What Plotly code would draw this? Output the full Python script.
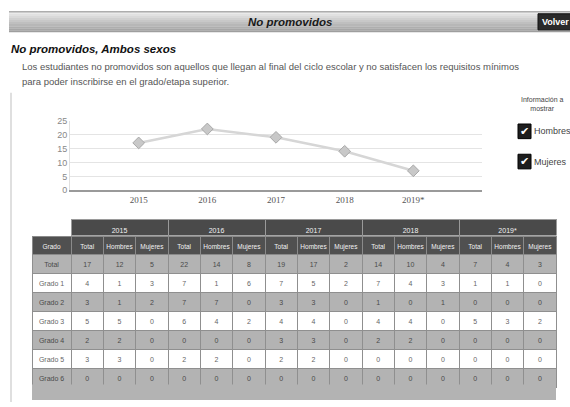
import plotly.graph_objects as go

W, H = 570, 407

# ---------------- data ----------------
years = [2015, 2016, 2017, 2018, 2019]
year_labels = ["2015", "2016", "2017", "2018", "2019*"]
chart_totals = [17, 22, 19, 14, 7]

grades = ["Total", "Grado 1", "Grado 2", "Grado 3", "Grado 4", "Grado 5", "Grado 6"]
sub_cols = ["Total", "Hombres", "Mujeres"]
# rows: grade, values per year as (Total, Hombres, Mujeres)
t2015 = [[17, 12, 5], [4, 1, 3], [3, 1, 2], [5, 5, 0], [2, 2, 0], [3, 3, 0], [0, 0, 0]]
t2016 = [[22, 14, 8], [7, 1, 6], [7, 7, 0], [6, 4, 2], [0, 0, 0], [2, 2, 0], [0, 0, 0]]
t2017 = [[19, 17, 2], [7, 5, 2], [3, 3, 0], [4, 4, 0], [3, 3, 0], [2, 2, 0], [0, 0, 0]]
t2018 = [[14, 10, 4], [7, 4, 3], [1, 0, 1], [4, 4, 0], [2, 2, 0], [0, 0, 0], [0, 0, 0]]
t2019 = [[7, 4, 3], [1, 1, 0], [0, 0, 0], [5, 3, 2], [0, 0, 0], [0, 0, 0], [0, 0, 0]]
year_tables = [t2015, t2016, t2017, t2018, t2019]

title_text = "No promovidos, Ambos sexos"
bar_text = "No promovidos"
desc1 = "Los estudiantes no promovidos son aquellos que llegan al final del ciclo escolar y no satisfacen los requisitos mínimos"
desc2 = "para poder inscribirse en el grado/etapa superior."
legend_items = ["Hombres", "Mujeres"]


def px(x):
    return x / W


def py(y):
    return 1 - y / H


FONT = "Liberation Sans, Arial, sans-serif"

fig = go.Figure()

# ---------------- line chart ----------------
fig.add_trace(go.Scatter(
    x=years, y=chart_totals, mode="lines+markers",
    line=dict(color="#d6d6d6", width=2.5),
    marker=dict(symbol="diamond", size=9, color="#c8c8c8",
                line=dict(color="#a8a8a8", width=1)),
    hoverinfo="skip", showlegend=False,
))

# ---------------- tables ----------------
header_cols = ["Grado"] + [c for _ in years for c in sub_cols]
grade_cells = [g.replace(" ", "\u00a0") for g in grades]
cols = [grade_cells]
for tbl in year_tables:
    for k in range(3):
        cols.append([row[k] for row in tbl])

row_fill = ["#b3b3b3" if i % 2 == 0 else "#ffffff" for i in range(len(grades))]
row_font = ["#4a4a4a" if i % 2 == 0 else "#666666" for i in range(len(grades))]

fig.add_trace(go.Table(
    domain=dict(x=[px(71), px(556)], y=[py(237), py(220)]),
    columnwidth=[1] * len(years),
    header=dict(values=year_labels, fill_color="#4a4a4a",
                line=dict(color="#9a9a9a", width=1),
                font=dict(color="#f2f2f2", size=7, family=FONT),
                height=17, align="center"),
    cells=dict(values=[[] for _ in years], height=1),
))

fig.add_trace(go.Table(
    domain=dict(x=[px(32), px(556)], y=[py(407), py(237)]),
    columnwidth=[39] + [32.3] * 15,
    header=dict(values=header_cols, fill_color="#505050",
                line=dict(color="#8a8a8a", width=1),
                font=dict(color="#f2f2f2", size=6.5, family=FONT),
                height=18, align="center"),
    cells=dict(values=cols,
               fill_color=[row_fill] * len(cols),
               line=dict(color="#8f8f8f", width=1),
               font=dict(color=[row_font] * len(cols), size=7, family=FONT),
               height=19, align="center"),
))

shapes = []
# header bar gradient
n = 10
for i in range(n):
    c = int(234 - (234 - 158) * i / (n - 1))
    shapes.append(dict(type="rect", xref="paper", yref="paper",
                       x0=px(9), x1=px(570), y0=py(7 + 21 * (i + 1) / n), y1=py(7 + 21 * i / n),
                       fillcolor=f"rgb({c},{c},{c})", line=dict(width=0), layer="below"))
shapes.append(dict(type="line", xref="paper", yref="paper", x0=px(9), x1=px(570),
                   y0=py(7), y1=py(7), line=dict(color="#8a8a8a", width=1)))
# Volver button
shapes.append(dict(type="rect", xref="paper", yref="paper", x0=px(538), x1=px(575),
                   y0=py(25.5), y1=py(9), fillcolor="#2a2a2a", line=dict(color="#111", width=1)))
# left border line
shapes.append(dict(type="line", xref="paper", yref="paper", x0=px(11), x1=px(11),
                   y0=py(407), y1=py(90), line=dict(color="#d4d4d4", width=1.5)))
# gray padding under table
shapes.append(dict(type="rect", xref="paper", yref="paper", x0=px(32), x1=px(556),
                   y0=py(405), y1=py(389), fillcolor="#b3b3b3", line=dict(width=0)))
# checkboxes
for yy in (122, 153):
    shapes.append(dict(type="rect", xref="paper", yref="paper", x0=px(518), x1=px(531),
                       y0=py(yy + 15), y1=py(yy), fillcolor="#1e1e1e", line=dict(color="#000", width=1)))

annotations = [
    dict(text=f"<b><i>{bar_text}</i></b>", x=px(290), y=py(17), xanchor="center", yanchor="middle",
         font=dict(size=11.5, color="#1a1a1a", family=FONT)),
    dict(text="<b>Volver</b>", x=px(540), y=py(17.5), xanchor="left", yanchor="middle",
         font=dict(size=9, color="#ffffff", family=FONT)),
    dict(text=f"<b><i>{title_text}</i></b>", x=px(9), y=py(45), xanchor="left", yanchor="middle",
         font=dict(size=11.5, color="#111111", family=FONT)),
    dict(text=desc1, x=px(20), y=py(63), xanchor="left", yanchor="middle",
         font=dict(size=9.5, color="#555555", family=FONT)),
    dict(text=desc2, x=px(20), y=py(78), xanchor="left", yanchor="middle",
         font=dict(size=9.5, color="#555555", family=FONT)),
    dict(text="Información a<br>mostrar", x=px(542), y=py(101), xanchor="center", yanchor="middle",
         font=dict(size=7, color="#444444", family=FONT), align="center"),
]
for yy, lab in zip((122, 153), legend_items):
    annotations.append(dict(text="✔", x=px(524.5), y=py(yy + 7.5), xanchor="center", yanchor="middle",
                            font=dict(size=11, color="#ffffff", family="DejaVu Sans")))
    annotations.append(dict(text=lab, x=px(531.5), y=py(yy + 7.5), xanchor="left", yanchor="middle",
                            font=dict(size=9, color="#444444", family=FONT)))
for a in annotations:
    a.update(xref="paper", yref="paper", showarrow=False)

fig.update_layout(
    width=W, height=H, margin=dict(l=0, r=0, t=0, b=0),
    paper_bgcolor="#ffffff", plot_bgcolor="#ffffff",
    showlegend=False, shapes=shapes, annotations=annotations,
    xaxis=dict(domain=[px(70), px(482)], range=[2014, 2020], tickvals=years, ticktext=year_labels,
               showgrid=False, zeroline=False, showline=True, linecolor="#9a9a9a", linewidth=1.5,
               tickfont=dict(size=9, color="#555555", family="Liberation Serif, DejaVu Serif, serif"),
               ticks="", fixedrange=True),
    yaxis=dict(domain=[py(190), py(118.5)], range=[0, 25], dtick=5,
               showgrid=True, gridcolor="#e4e4e4", gridwidth=1, zeroline=False,
               showline=True, linecolor="#e0e0e0", ticks="",
               tickfont=dict(size=9, color="#888888", family=FONT), fixedrange=True),
)

fig.write_html("out.html", config={"displayModeBar": False},
               post_script="document.body.style.margin='0';document.body.style.overflow='hidden';")
